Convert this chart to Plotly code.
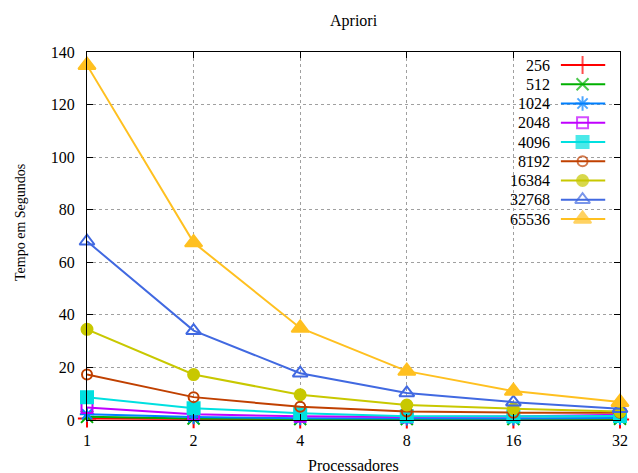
import plotly.graph_objects as go

processors = [1, 2, 4, 8, 16, 32]
series_names = ["256", "512", "1024", "2048", "4096", "8192", "16384", "32768", "65536"]
v256 = [0.6, 0.3, 0.2, 0.2, 0.2, 0.2]
v512 = [1.2, 0.6, 0.4, 0.4, 0.4, 0.5]
v1024 = [2.2, 1.1, 0.7, 0.6, 0.6, 0.8]
v2048 = [4.8, 2.2, 1.4, 1.1, 1.3, 2.0]
v4096 = [8.7, 4.5, 2.6, 1.4, 1.4, 1.5]
v8192 = [17.3, 8.7, 5.0, 3.2, 2.8, 2.8]
v16384 = [34.5, 17.3, 9.6, 5.7, 4.3, 3.2]
v32768 = [68, 34, 17.8, 10.3, 6.8, 4.3]
v65536 = [135, 67.5, 35, 18.6, 11, 6.8]
series_values = [v256, v512, v1024, v2048, v4096, v8192, v16384, v32768, v65536]
y_ticks = [0, 20, 40, 60, 80, 100, 120, 140]

colors = ["#ff0000", "#00b000", "#0080ff", "#c000ff", "#00e0e0",
          "#c04000", "#c8c800", "#4169e1", "#ffc020"]
symbols = ["cross-thin-open", "x-thin-open", "asterisk-open", "square-open", "square",
           "circle-open", "circle", "triangle-up-open", "triangle-up"]
sizes = [13, 12, 12, 11, 12, 10, 11, 13, 15]

FONT = "Liberation Serif"
fig = go.Figure()

for name, vals, c, s, sz in zip(series_names, series_values, colors, symbols, sizes):
    fig.add_trace(go.Scatter(
        x=processors, y=vals, mode="lines+markers", name=name,
        line=dict(color=c, width=2),
        marker=dict(symbol=s, size=sz, color=c, line=dict(color=c, width=2)),
        showlegend=False, cliponaxis=False,
    ))

# gnuplot-style key: label right-aligned, then line sample with marker
# overlay axes in pixel units of plot area (width 541, height 368)
row0 = 420 - 65
for i, (name, c, s, sz) in enumerate(zip(series_names, colors, symbols, sizes)):
    yy = row0 - 19.25 * i
    fig.add_trace(go.Scatter(
        x=[481, 503, 526], y=[yy, yy, yy], xaxis="x2", yaxis="y2",
        mode="lines+markers", line=dict(color=c, width=2),
        marker=dict(symbol=s, size=[0, sz, 0], color=c, line=dict(color=c, width=2)),
        showlegend=False, hoverinfo="skip",
    ))
    fig.add_annotation(x=472, y=yy, xref="x2", yref="y2", text=name, showarrow=False,
                       xanchor="right", yanchor="middle",
                       font=dict(family=FONT, size=16, color="black"))

fig.update_layout(
    width=630, height=465,
    margin=dict(l=79, r=10, t=44, b=53),
    paper_bgcolor="white", plot_bgcolor="white",
    font=dict(family=FONT, size=16, color="black"),
    xaxis=dict(
        type="log", range=[0, 1.50515], tickvals=processors,
        ticktext=[str(p) for p in processors],
        tickfont=dict(family=FONT, size=16),
        showgrid=True, gridcolor="#a0a0a0", griddash="dot", gridwidth=1,
        showline=True, linecolor="black", linewidth=1, mirror="ticks",
        ticks="inside", ticklen=6, tickcolor="black", zeroline=False,
        ticklabelstandoff=6,
    ),
    yaxis=dict(
        range=[0, 140], tickvals=y_ticks,
        tickfont=dict(family=FONT, size=16),
        showgrid=True, gridcolor="#a0a0a0", griddash="dot", gridwidth=1,
        showline=True, linecolor="black", linewidth=1, mirror="ticks",
        ticks="inside", ticklen=6, tickcolor="black", zeroline=True,
        zerolinecolor="black", zerolinewidth=1, ticklabelstandoff=8,
    ),
    xaxis2=dict(overlaying="x", range=[0, 541], visible=False, fixedrange=True),
    yaxis2=dict(overlaying="y", range=[0, 368], visible=False, fixedrange=True),
    showlegend=False,
)

fig.add_annotation(x=0.5, y=1, xref="paper", yref="paper", text="Apriori", showarrow=False,
                   yanchor="bottom", yshift=20, font=dict(family=FONT, size=16))
fig.add_annotation(x=0.5, y=0, xref="paper", yref="paper", text="Processadores",
                   showarrow=False, yanchor="top", yshift=-35, font=dict(family=FONT, size=16))
fig.add_annotation(x=0, y=0.5, xref="paper", yref="paper", text="Tempo em Segundos",
                   showarrow=False, textangle=-90, xanchor="center", xshift=-67, yshift=13,
                   font=dict(family=FONT, size=14))

fig.write_html("out.html")
